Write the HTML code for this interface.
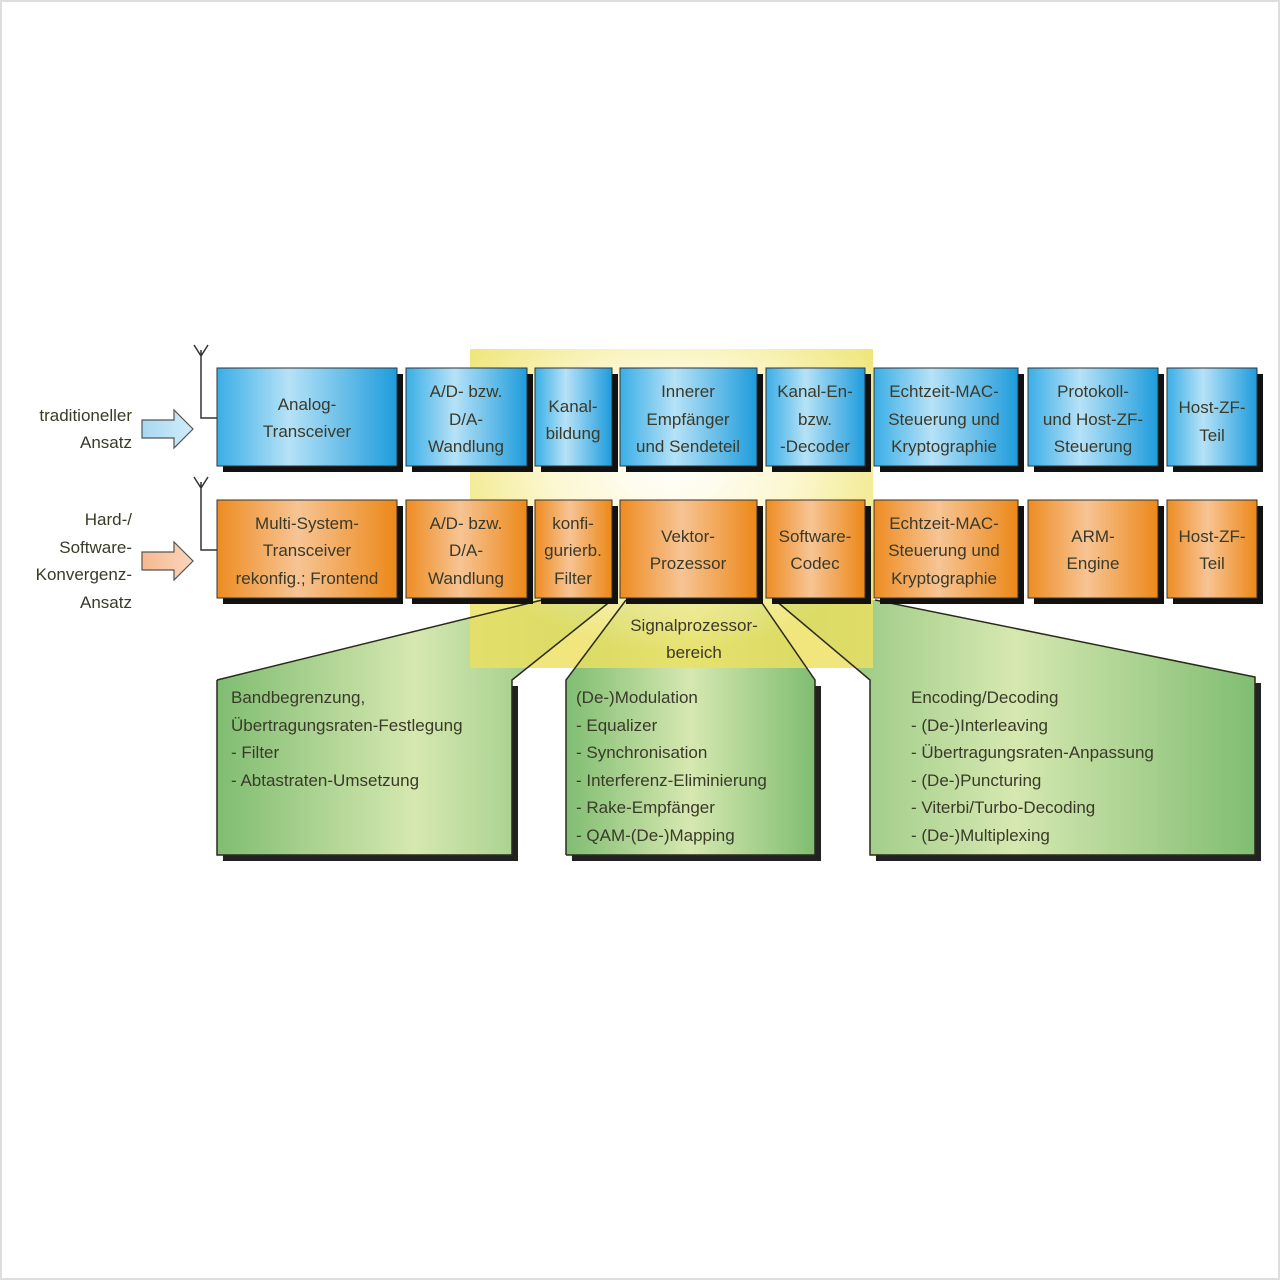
<!DOCTYPE html>
<html><head><meta charset="utf-8"><style>
html,body{margin:0;padding:0;background:#fff}
svg{display:block}
text{font-family:"Liberation Sans",sans-serif;font-size:17px;fill:#3a3a2a}
</style></head><body>
<svg width="1280" height="1280" viewBox="0 0 1280 1280">
<defs>
<linearGradient id="bl" x1="0" x2="1" y1="0" y2="0"><stop offset="0" stop-color="#3aaee6"/><stop offset="0.4" stop-color="#b6e2f7"/><stop offset="1" stop-color="#1e9cdc"/></linearGradient>
<linearGradient id="or" x1="0" x2="1" y1="0" y2="0"><stop offset="0" stop-color="#ee8c22"/><stop offset="0.45" stop-color="#f7c494"/><stop offset="1" stop-color="#ec8818"/></linearGradient>
<linearGradient id="gr" x1="0" x2="1" y1="0" y2="0"><stop offset="0" stop-color="#80bd72"/><stop offset="0.5" stop-color="#d6e8b0"/><stop offset="1" stop-color="#80bd72"/></linearGradient>
<radialGradient id="ye" cx="0.5" cy="0.35" r="0.6"><stop offset="0" stop-color="#ffffff"/><stop offset="0.5" stop-color="#fbf6c8"/><stop offset="1" stop-color="#ece060"/></radialGradient>
<linearGradient id="ar1" x1="0" x2="1"><stop offset="0" stop-color="#a8d8f2"/><stop offset="1" stop-color="#d0ecfa"/></linearGradient>
<linearGradient id="ar2" x1="0" x2="1"><stop offset="0" stop-color="#f6b890"/><stop offset="1" stop-color="#fad6bc"/></linearGradient>
<clipPath id="yc"><rect x="470" y="349" width="403" height="319"/></clipPath>
</defs>
<rect x="1" y="1" width="1278" height="1278" fill="#fff" stroke="#ddd" stroke-width="2"/>

<!-- callout shadows -->
<g fill="#222">
<rect x="223" y="686" width="295" height="175"/>
<rect x="572" y="686" width="249" height="175"/>
<rect x="876" y="683" width="385" height="178"/>
</g>
<!-- callouts -->
<g stroke="none">
<polygon points="217,680 542,600 612,600 512,680 512,855 217,855" fill="url(#gr)"/>
<polygon points="566,680 626,600 760,600 815,680 815,855 566,855" fill="url(#gr)"/>
<polygon points="870,680 775,600 875,600 1255,677 1255,855 870,855" fill="url(#gr)"/>
</g>
<rect x="470" y="349" width="403" height="319" fill="url(#ye)" opacity="0.82"/>
<g stroke="#2a2a1a" stroke-width="1.5" fill="none">
<polyline points="217,680 542,600"/><polyline points="612,600 512,680 512,855 217,855 217,680"/>
<polyline points="566,855 566,680 626,600"/><polyline points="760,600 815,680 815,855 566,855"/>
<polyline points="775,600 870,680 870,855 1255,855 1255,677 875,600"/>
</g>

<!-- antennas -->
<g stroke="#333" stroke-width="1.5" fill="none">
<path d="M217,418 H201 V350 M194,345 L201,356 L208,345"/>
<path d="M217,550 H201 V482 M194,477 L201,488 L208,477"/>
</g>
<!-- arrows -->
<path d="M142,420 H174 V410 L193,429 L174,448 V438 H142 Z" fill="url(#ar1)" stroke="#555" stroke-width="1.2"/>
<path d="M142,552 H174 V542 L193,561 L174,580 V570 H142 Z" fill="url(#ar2)" stroke="#555" stroke-width="1.2"/>

<g text-anchor="end">
<text x="132" y="421">traditioneller</text><text x="132" y="448">Ansatz</text>
<text x="132" y="525">Hard-/</text><text x="132" y="553">Software-</text><text x="132" y="580">Konvergenz-</text><text x="132" y="608">Ansatz</text>
</g>

<!-- boxes -->
<g stroke="#333" stroke-width="1">
<g fill="#111" stroke="none">
<rect x="223" y="374" width="180" height="98"/><rect x="412" y="374" width="121" height="98"/><rect x="541" y="374" width="77" height="98"/><rect x="626" y="374" width="137" height="98"/><rect x="772" y="374" width="99" height="98"/><rect x="880" y="374" width="144" height="98"/><rect x="1034" y="374" width="130" height="98"/><rect x="1173" y="374" width="90" height="98"/>
<rect x="223" y="506" width="180" height="98"/><rect x="412" y="506" width="121" height="98"/><rect x="541" y="506" width="77" height="98"/><rect x="626" y="506" width="137" height="98"/><rect x="772" y="506" width="99" height="98"/><rect x="880" y="506" width="144" height="98"/><rect x="1034" y="506" width="130" height="98"/><rect x="1173" y="506" width="90" height="98"/>
</g>
<g fill="url(#bl)">
<rect x="217" y="368" width="180" height="98"/><rect x="406" y="368" width="121" height="98"/><rect x="535" y="368" width="77" height="98"/><rect x="620" y="368" width="137" height="98"/><rect x="766" y="368" width="99" height="98"/><rect x="874" y="368" width="144" height="98"/><rect x="1028" y="368" width="130" height="98"/><rect x="1167" y="368" width="90" height="98"/>
</g>
<g fill="url(#or)">
<rect x="217" y="500" width="180" height="98"/><rect x="406" y="500" width="121" height="98"/><rect x="535" y="500" width="77" height="98"/><rect x="620" y="500" width="137" height="98"/><rect x="766" y="500" width="99" height="98"/><rect x="874" y="500" width="144" height="98"/><rect x="1028" y="500" width="130" height="98"/><rect x="1167" y="500" width="90" height="98"/>
</g>
</g>

<g text-anchor="middle">
<text x="307" y="410">Analog-</text><text x="307" y="437">Transceiver</text>
<text x="466" y="397">A/D- bzw.</text><text x="466" y="425">D/A-</text><text x="466" y="452">Wandlung</text>
<text x="573" y="412">Kanal-</text><text x="573" y="439">bildung</text>
<text x="688" y="397">Innerer</text><text x="688" y="425">Empfänger</text><text x="688" y="452">und Sendeteil</text>
<text x="815" y="397">Kanal-En-</text><text x="815" y="425">bzw.</text><text x="815" y="452">-Decoder</text>
<text x="944" y="397">Echtzeit-MAC-</text><text x="944" y="425">Steuerung und</text><text x="944" y="452">Kryptographie</text>
<text x="1093" y="397">Protokoll-</text><text x="1093" y="425">und Host-ZF-</text><text x="1093" y="452">Steuerung</text>
<text x="1212" y="413">Host-ZF-</text><text x="1212" y="441">Teil</text>

<text x="307" y="529">Multi-System-</text><text x="307" y="556">Transceiver</text><text x="307" y="584">rekonfig.; Frontend</text>
<text x="466" y="529">A/D- bzw.</text><text x="466" y="556">D/A-</text><text x="466" y="584">Wandlung</text>
<text x="573" y="529">konfi-</text><text x="573" y="556">gurierb.</text><text x="573" y="584">Filter</text>
<text x="688" y="542">Vektor-</text><text x="688" y="569">Prozessor</text>
<text x="815" y="542">Software-</text><text x="815" y="569">Codec</text>
<text x="944" y="529">Echtzeit-MAC-</text><text x="944" y="556">Steuerung und</text><text x="944" y="584">Kryptographie</text>
<text x="1093" y="542">ARM-</text><text x="1093" y="569">Engine</text>
<text x="1212" y="542">Host-ZF-</text><text x="1212" y="569">Teil</text>

<text x="694" y="631">Signalprozessor-</text><text x="694" y="658">bereich</text>
</g>

<text x="231" y="703">Bandbegrenzung,</text>
<text x="231" y="731">Übertragungsraten-Festlegung</text>
<text x="231" y="758">- Filter</text>
<text x="231" y="786">- Abtastraten-Umsetzung</text>

<text x="576" y="703">(De-)Modulation</text>
<text x="576" y="731">- Equalizer</text>
<text x="576" y="758">- Synchronisation</text>
<text x="576" y="786">- Interferenz-Eliminierung</text>
<text x="576" y="813">- Rake-Empfänger</text>
<text x="576" y="841">- QAM-(De-)Mapping</text>

<text x="911" y="703">Encoding/Decoding</text>
<text x="911" y="731">- (De-)Interleaving</text>
<text x="911" y="758">- Übertragungsraten-Anpassung</text>
<text x="911" y="786">- (De-)Puncturing</text>
<text x="911" y="813">- Viterbi/Turbo-Decoding</text>
<text x="911" y="841">- (De-)Multiplexing</text>
</svg>
</body></html>
